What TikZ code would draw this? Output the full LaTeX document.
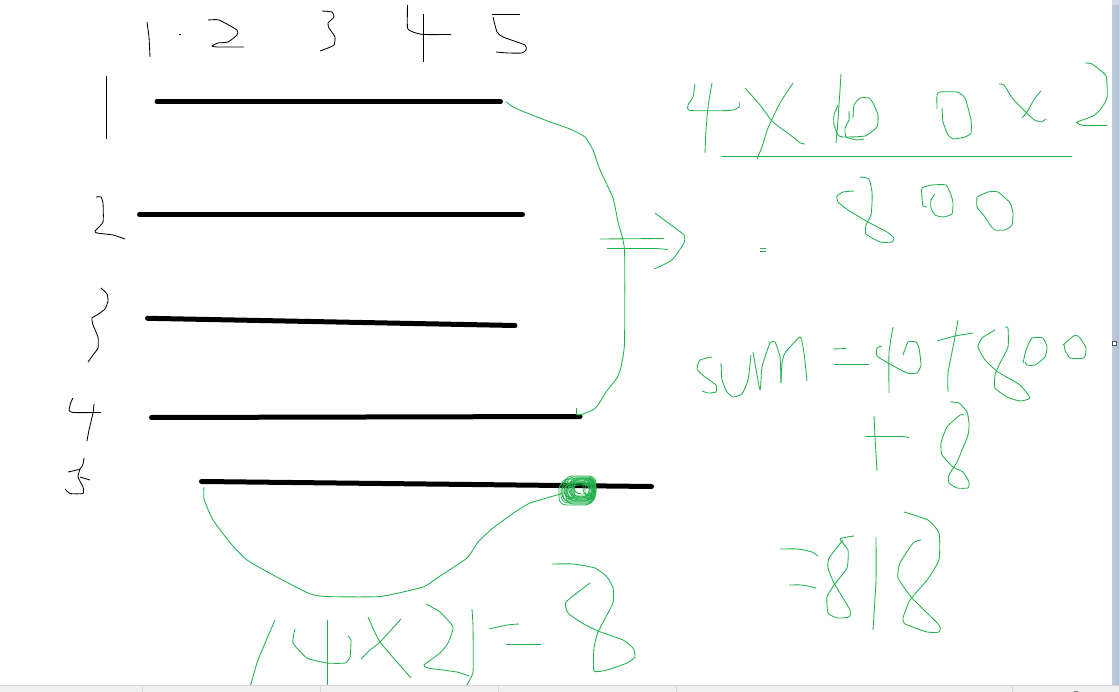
\documentclass[tikz,border=0pt]{standalone}
\definecolor{pen}{HTML}{22B14C}
\definecolor{barc}{HTML}{F0F0F0}
\definecolor{barl}{HTML}{D6D6D6}
\definecolor{scr}{HTML}{B4C2D6}
\tikzset{
  gp/.style={draw=pen,line width=0.85pt,smooth,tension=0.3,line join=round},
  bp/.style={draw=black,line width=0.85pt,smooth,tension=0.3,line join=round},
  thick bar/.style={draw=black,line width=5pt,line cap=round},
  scrib/.style={draw=pen,line width=0.8pt,rounded corners=7pt}
}
\begin{document}
\begin{tikzpicture}[x=1pt,y=-1pt]
\useasboundingbox (0,0) rectangle (1119,692);
\fill[white] (0,0) rectangle (1119,692);
% ruled lines
\draw[thick bar] (157,101.5) -- (500.5,101.5);
\draw[thick bar] (139.5,214.5) -- (522.5,214.5);
\draw[thick bar] (147.5,318.3) -- (515,325.5);
\draw[thick bar] (151.5,417.5) -- (580,416.5);
\draw[thick bar] (201.5,481.5) -- (651.5,486.5);
% top digits
\draw[bp] plot coordinates {(147,22)(149,37)(150,57)};
\draw[bp] (178.5,34.5) -- (181,34.5);
\draw[bp] plot coordinates {(208,20)(219,20)(237,30)(237,35)(228,42)(218,43)(212,46)(217,47)(244,47)};
\draw[bp] plot coordinates {(322,11)(332,12)(334,17)(328,23)(329,28)(335,37)(334,45)(328,48)(320,51)};
\draw[bp] plot coordinates {(407.5,5)(407.5,28)(413,32)(423,34.5)(451,34.5)};
\draw[bp] (423.5,14) -- (423.5,62);
\draw[bp] (492,14.5) -- (520,14.5);
\draw[bp] plot coordinates {(493,17)(497,32)(503,37)(525,45)(526,50)(522,53)(508,53)(496,52)};
% left digits
\draw[bp] (106.5,76) -- (106.5,139);
\draw[bp] plot coordinates {(96,197)(101,197)(103,203)(103,222)(95,231)(97,233)(113,235)(125,239)};
\draw[bp] plot coordinates {(101,288)(107,294)(108,301)(105,309)(97,315)(92,318)(93,325)(98,337)(98,348)(93,355)(88,362)};
\draw[bp] plot coordinates {(73,398)(71,402)(69,410)(73,412.5)(101,412.5)};
\draw[bp] plot coordinates {(94,404)(93,413)(89,430)(87,441)};
\draw[bp] plot coordinates {(84,458)(83,464)(80,469)(68,472)};
\draw[bp] plot coordinates {(80,469)(78,477)(83,487)(83,493.5)(70,493.5)(65,489)};
\draw[bp] (80,477) -- (90,480);
% right bracket curve
\draw[gp] plot coordinates {(506,102)(513,107)(527,113)(550,122)(570,129)(585,137)(593,150)(600,170)(613,198)(618,222)(624.5,250)(624.5,343)(621,367)(617,378)(606,392)(598,405)(593,410)(583,414)(577,415)};
\draw[gp,sharp plot] plot coordinates {(583,414.5)(576.5,414.5)(576.5,408)};
% arrow
\draw[gp] (600,239) -- (664,238.5);
\draw[gp] (607,248.5) -- (656,248.5) -- (668,249.5);
\draw[gp] plot coordinates {(655,213)(667,222)(684,235)(684,243)(673,259)(663,265)(654,269)};
% 4 x 16 0 x 2
\draw[gp] plot coordinates {(695,84)(693,97)(688,105)(690,110.5)(730,110.5)(739,107)(739,102)};
\draw[gp] plot coordinates {(712,83)(708,107)(706,130)(705,153)};
\draw[gp] plot coordinates {(745,88)(760,105)(773,122)(793,137)(800,143)(805,144)};
\draw[gp] plot coordinates {(793,83)(780,103)(768,128)(762,147)(757,159)};
\draw[gp] plot coordinates {(841,74)(840,90)(838,120)(836,143)};
\draw[gp] plot coordinates {(838,105)(834,115)(834,125)(838,135)(843,137)(865,136)(877,127)(878,115)(873,103)(869,98)(860,98)(854,105)(853,118)};
\draw[gp] plot coordinates {(849,111)(849,120)(845,128)(846,137)(857,140)(864,139)};
\draw[gp] plot coordinates {(937,109)(937,95)(940,92)(957,92)(965,98)(971,120)(971,133)(965,137)(953,139)(948,135)(943,122)(942,108)};
\draw[gp] plot coordinates {(999,84)(1004,85)(1013,99)(1033,119)(1041,122)(1046,119)};
\draw[gp] plot coordinates {(1041,91)(1035,98)(1027,112)(1022,118)};
\draw[gp] plot coordinates {(1085,63)(1092,64)(1106,76)(1107,98)(1100,110)(1093,116)(1077,122)(1077,123)(1083,125.5)(1107,125.5)};
\draw[gp] (721,156.5) -- (1072,156.5);
% 800
\draw[gp] plot coordinates {(854,191)(843,192)(837,196)(838,202)(848,210)(868,222)(887,232)(894,238)(892,242)(880,242)(866,234)(866,225)(871,215)(872,203)(872,192)(869,179)(860,177)};
\draw[gp] plot coordinates {(927,207)(923,206)(922,198)(922,188)(932,185)(946,185)(951,195)(953,203)(952,214)(943,217)(935,215)(931,208)(931,200)(935,194)};
\draw[gp] plot coordinates {(977,197)(988,192)(998,192)(1010,203)(1013,213)(1012,225)(1005,230)(995,230)(990,225)(985,217)(977,207)(977,197)};
\draw[draw=pen!70!gray,line width=0.6pt] (760,248.7) -- (766,248.7) (760,251.7) -- (766,251.7);
% sum
\draw[gp] plot coordinates {(712,357)(700,360)(697,369)(705,377)(716,385)(716,392)(708,393)(702,391)};
\draw[gp] plot coordinates {(721,363)(722,380)(727,392)(733,397)(742,394)(748,380)(751,355)};
\draw[gp] plot coordinates {(753,352)(760,390)(762,367)(770,343)(775,342)(780,357)(781,383)};
\draw[gp] plot coordinates {(781,383)(782,363)(785,353)(800,337)(804,353)(807,381)};
\draw[gp] (833,349) -- (846,348.5);
\draw[gp] (834,364.5) -- (869,364.5);
\draw[gp] plot coordinates {(893,327)(889,353)(889,393)};
\draw[gp] plot coordinates {(882,346)(877,348)(877,356)(888,363)(907,373)(917,373)(921,365)(919,348)(916,342)(908,342)(903,355)};
\draw[gp] plot coordinates {(937,341)(955,336)(973,333)};
\draw[gp] plot coordinates {(958,320)(955,337)(948,373)(948,392)};
\draw[gp] plot coordinates {(995,330)(982,338)(978,347)(985,360)(998,372)(1020,385)(1030,398)(1020,401)(1007,397)(995,388)(995,375)(1000,363)(1008,347)(1008,328)(1005,327)};
\draw[gp] plot coordinates {(1023,363)(1026,350)(1032,338)(1043,338)(1047,347)(1045,357)(1035,365)(1027,365)(1025,362)};
\draw[gp] plot coordinates {(1063,345)(1075,335)(1080,338)(1086,348)(1084,358)(1070,358)(1065,350)(1064,344)};
% + 8
\draw[gp] (865,436.5) -- (903,436.5) -- (909,437.5);
\draw[gp] plot coordinates {(874,416)(875,437)(877,471)};
\draw[gp] plot coordinates {(950,402)(959,403)(967,412)(969,423)(968,435)(957,462)(949,475)(949,483)(957,488)(968,488)(969,482)(963,472)(953,467)(942,455)(941,443)(947,427)(960,415)(964,415)};
% =818
\draw[gp] plot coordinates {(780,549)(798,549)(812,552)(818,556)};
\draw[gp] plot coordinates {(789,585)(802,585)(816,588)};
\draw[gp] plot coordinates {(854,536)(840,539)(848,550)(847,568)(834,585)(827,597)(828,613)(837,618)(849,617)(850,610)(834,583)(828,568)(829,558)(843,540)};
\draw[gp] plot coordinates {(876,537)(876,580)(873,630)};
\draw[gp] plot coordinates {(904,512)(928,520)(939,533)(939,560)(927,580)(910,600)(903,618)(905,624)(927,632)(939,632)(939,625)(912,598)(898,578)(900,563)(913,543)(921,540)};
% lower curve
\draw[gp] plot coordinates {(204,487)(204,499)(213,520)(232,545)(247,560)(273,575)(308,593)(325,596.5)(380,596.5)(423,587)(437,578)(467,558)(478,542)(493,528)(515,512)(530,503)(557,495)(563,493)};
% scribble
\foreach \xa/\ya/\xb/\yb in {
  561/479/595/503, 565/476/596/500, 559/482/592/505, 563/479/594/502,
  567/477/595/498, 562/483/592/501, 569/480/596/497, 566/482/594/504,
  570/478/593/496, 572/480/592/499, 564/484/590/498, 568/483/591/501,
  574/478/595/494, 571/485/594/500, 573/482/589/497, 583/478/595/496,
  585/481/594/499, 566/486/575/499}
  \draw[scrib] (\xa,\ya) rectangle (\xb,\yb);
% (4x2)=8
\draw[gp] plot coordinates {(275,620)(258,660)(251,684)(250,686)};
\draw[gp] plot coordinates {(295,629)(293,643)(307,658)(327,663)(345,663)(350,657)(351,640)(348,636)};
\draw[gp] (327.5,620) -- (327.5,686);
\draw[gp] plot coordinates {(368,617)(380,642)(411,678)};
\draw[gp] plot coordinates {(401,619)(380,642)(370,650)(361,659)};
\draw[gp] plot coordinates {(426,604)(440,612)(453,627)(448,643)(440,653)(424,665)(428,668)(457,672)(469,676)};
\draw[gp] plot coordinates {(472,609)(473,627)(473,672)(466,686)};
\draw[gp] plot coordinates {(489,629)(507,625)(519,624)};
\draw[gp] (506,644.5) -- (541,644.5);
\draw[gp] plot coordinates {(552,564)(573,564)(595,568)(607,577)(613,588)(613,603)(598,632)(594,648)(594,671)(607,670)(627,663)(635,657)(633,648)(623,640)(598,631)(582,623)(568,613)(566,602)(590,583)};
% window chrome
\shade[left color=scr!85!white,right color=scr] (1112,0) rectangle (1119,685);
\fill[scr!60!white] (1112,0) rectangle (1119,5);
\fill[barc] (0,685) rectangle (1119,692);
\draw[barl,line width=1pt] (0,685.5) -- (1119,685.5);
\foreach \sx in {142.5,320.5,498.5,676.5,1012.5}
  \draw[barl,line width=1pt] (\sx,686) -- (\sx,692);
\fill[gray] (1074,690.5) rectangle (1078,692);
\draw[draw=black!70,fill=white,line width=1pt] (1112.5,341.5) rectangle (1116.5,345.5);
\end{tikzpicture}
\end{document}
